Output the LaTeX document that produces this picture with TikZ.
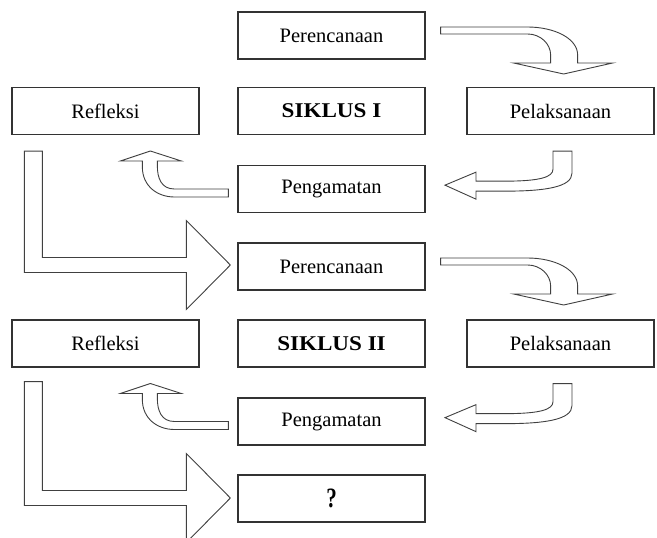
\documentclass[tikz,border=0pt]{standalone}
\usepackage{fontspec}
\usepackage{graphicx}
\setmainfont{Liberation Serif}
\usetikzlibrary{calc}
\begin{document}
\begin{tikzpicture}[x=1pt,y=-1pt,
  box/.style={draw=black!80, line width=1.3pt, minimum width=187pt, minimum height=47pt, inner sep=0pt,
    font=\fontsize{20.5}{24}\selectfont},
  bigbox/.style={box, font=\fontsize{21}{24}\selectfont\bfseries},
  qbox/.style={box, font=\fontsize{28}{30}\selectfont\bfseries},
  arr/.style={draw=black!75, line width=0.9pt, fill=white, line join=miter},
  curvdown/.pic={
    \path[arr] (15,-8.5) -- (102,-8.5) .. controls (128,-8.5) and (152,2.5) .. (152,19.5)
      -- (152,27.5) -- (187,27.5) -- (138,38.5) -- (88,27.5) -- (125,27.5) -- (125,19.5)
      .. controls (125,8.5) and (115,-1.5) .. (102,-1.5) -- (15,-1.5) -- cycle;
  },
  hookleft/.pic={
    \path[arr] (-7.5,16) -- (11.5,16) -- (11.5,38) .. controls (11.5,52) and (-15.5,56) .. (-55.5,56)
      -- (-84.5,56) -- (-84.5,64) -- (-115.5,50) -- (-84.5,37) -- (-84.5,46) -- (-55.5,46)
      .. controls (-20.5,46) and (-7.5,42) .. (-7.5,34) -- cycle;
  },
  curvup/.pic={
    \path[arr] (-9,0) -- (-63,0) .. controls (-76,0) and (-80,-11) .. (-80,-23)
      -- (-80,-28) -- (-56,-28) -- (-87,-38) -- (-117,-28) -- (-95,-28) -- (-95,-22)
      .. controls (-95,-3) and (-80,8) .. (-63,8) -- (-9,8) -- cycle;
  }]
\useasboundingbox (0,0) rectangle (657,538);

\node[box] (P1) at (331.5,35.5) {Perencanaan};
\node[box] (R1) at (105.5,111) {Refleksi};
\node[bigbox] (S1) at (331.5,111) {\scalebox{1.1}[1]{SIKLUS I}};
\node[box] (L1) at (560.5,111) {Pelaksanaan};
\node[box] (G1) at (331.5,189) {Pengamatan};
\node[box] (P2) at (331.5,266.5) {Perencanaan};
\node[box] (R2) at (105.5,343.5) {Refleksi};
\node[bigbox] (S2) at (331.5,343.5) {\scalebox{1.1}[1]{SIKLUS II}};
\node[box] (L2) at (560.5,343.5) {Pelaksanaan};
\node[box] (G2) at (331.5,421.5) {Pengamatan};
\node[qbox] (Q) at (331.5,498.5) {\scalebox{0.75}[1]{?}};

% cycle arrows
\pic at (P1.east) {curvdown};
\pic at (L1.south) {hookleft};
\pic at (G1.west) {curvup};
\pic at (P2.east) {curvdown};
\pic at (L2.south) {hookleft};
\pic at (G2.west) {curvup};

% big L arrows
\coordinate (T4) at ($(P2.west)+(-7,-1.5)$);
\coordinate (a4) at ($(R1.south west)+(13,16)$);
\path[arr] (a4) -- ++(18,0) -- ($(a4 |- T4)+(18,-7.5)$) -- ($(T4)+(-44,-7.5)$) -- ($(T4)+(-44,-44.5)$)
  -- (T4) -- ($(T4)+(-44,44.5)$) -- ($(T4)+(-44,7.5)$) -- ($(a4 |- T4)+(0,7.5)$) -- cycle;

\coordinate (T8) at ($(Q.west)+(-7,-0.5)$);
\coordinate (a8) at ($(R2.south west)+(13,14)$);
\path[arr] (a8) -- ++(18,0) -- ($(a8 |- T8)+(18,-7.5)$) -- ($(T8)+(-44,-7.5)$) -- ($(T8)+(-44,-44.5)$)
  -- (T8) -- ($(T8)+(-44,44.5)$) -- ($(T8)+(-44,7.5)$) -- ($(a8 |- T8)+(0,7.5)$) -- cycle;
\end{tikzpicture}
\end{document}
